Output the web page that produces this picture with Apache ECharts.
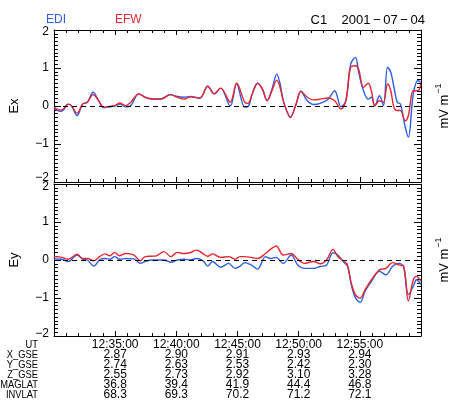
<!DOCTYPE html>
<html>
<head>
<meta charset="utf-8">
<script src="https://cdn.jsdelivr.net/npm/echarts@6.0.0/dist/echarts.min.js"></script>
<style>
  html, body { margin: 0; padding: 0; background: #fff; }
  #chart { width: 459px; height: 408px; }
</style>
</head>
<body>
<div id="chart"></div>
<script>
// time in minutes after 12:30:00 UT
const exTime = [0, 0.5, 0.76, 1.15, 1.42, 1.89, 2.34, 2.73, 3.2, 3.65, 4.04, 4.57, 4.96, 5.41, 5.83, 6.27, 6.93, 7.45, 7.98, 8.77,
  9.5, 10.08, 10.6, 11.13, 11.92, 12.57, 13.1, 13.62, 14.41, 14.93, 15.59, 15.85, 16.24, 16.64, 17.03, 17.42, 17.82, 18.21, 18.47, 18.74,
  19.05, 19.31, 19.79, 20.18, 20.7, 21.23, 21.76, 22.41, 22.94, 23.46, 23.86, 24.25, 24.64, 24.9, 25.3, 25.69, 25.95, 26.22, 26.61, 26.93,
  27.27, 27.53, 27.79, 28.05, 28.32, 28.71, 28.97, 29.37, 29.76, 29.98]
const exEdi = [-0.06, -0.14, -0.11, 0.05, 0.01, -0.25, 0.05, 0.10, 0.36, 0.14, -0.04, -0.02, 0.00, 0.05, -0.02, 0.01, 0.32, 0.23, 0.18, 0.19,
  0.30, 0.25, 0.23, 0.25, 0.21, 0.52, 0.32, 0.47, 0.00, 0.58, -0.03, -0.02, 0.35, 0.60, 0.45, 0.14, 0.45, 0.84, 0.60, 0.14,
  -0.15, -0.30, 0.05, 0.39, 0.14, 0.04, 0.07, 0.18, 0.40, -0.02, 0.14, 1.10, 1.28, 0.89, 0.40, 0.18, 0.23, 0.01, 0.27, 0.01,
  1.02, 0.89, 0.49, 0.10, 0.05, -0.56, -0.82, 0.32, 0.67, 0.62]
const exEfw = [-0.03, -0.11, -0.08, 0.05, 0.01, -0.19, 0.05, 0.10, 0.30, 0.14, -0.03, -0.01, 0.01, 0.08, 0.01, 0.10, 0.32, 0.23, 0.19, 0.18,
  0.30, 0.23, 0.18, 0.24, 0.21, 0.52, 0.32, 0.47, 0.10, 0.60, 0.10, 0.07, 0.35, 0.60, 0.45, 0.14, 0.40, 0.68, 0.50, 0.14,
  -0.15, -0.30, 0.05, 0.39, 0.23, 0.16, 0.18, 0.21, 0.14, -0.08, 0.14, 1.02, 1.06, 0.97, 0.49, 0.60, 0.40, 0.00, 0.14, 0.10,
  0.58, 0.40, -0.04, -0.12, -0.12, -0.39, -0.25, 0.40, 0.40, 0.58]

const eyTime = [0, 0.63, 1.15, 1.89, 2.34, 2.73, 3.25, 3.78, 4.17, 4.57, 4.96, 5.35, 5.88, 6.54, 7.06, 7.45, 7.98, 8.37, 8.98, 9.56,
  10.08, 10.6, 11.13, 11.65, 12.18, 12.57, 12.96, 13.62, 14.28, 14.8, 15.19, 15.59, 16.11, 16.64, 17.29, 17.69, 18.16, 18.74, 19.39, 19.92,
  20.44, 21.23, 21.76, 22.28, 22.81, 23.2, 23.72, 23.99, 24.3, 24.64, 25.04, 25.43, 25.95, 26.61, 27.14, 27.66, 28.19, 28.58, 28.97, 29.37,
  29.63, 30]
const eyEdi = [0.03, 0.02, -0.04, 0.13, 0.02, 0.00, -0.16, 0.02, 0.04, 0.02, 0.09, 0.02, 0.04, 0.03, -0.09, -0.04, 0.00, 0.00, 0.00, -0.06,
  0.00, 0.02, 0.00, 0.04, -0.02, -0.16, -0.04, -0.19, -0.09, -0.22, -0.17, -0.07, -0.13, -0.24, 0.09, 0.04, 0.07, -0.09, 0.13, -0.13,
  -0.22, -0.22, -0.17, -0.13, 0.19, 0.13, -0.07, -0.16, -0.65, -0.99, -1.11, -0.82, -0.56, -0.30, -0.39, -0.17, -0.09, -0.17, -0.91, -0.69,
  -0.52, -0.65]
const eyEfw = [0.09, 0.07, 0.02, 0.15, 0.04, 0.04, -0.02, 0.10, 0.16, 0.11, 0.20, 0.11, 0.17, 0.13, -0.02, 0.09, 0.10, 0.11, 0.22, 0.09,
  0.20, 0.17, 0.19, 0.26, 0.17, 0.10, 0.16, 0.07, 0.09, 0.02, 0.09, 0.09, 0.07, 0.04, 0.17, 0.28, 0.37, 0.13, 0.17, 0.02,
  -0.09, -0.04, -0.10, 0.00, 0.28, 0.09, -0.04, -0.13, -0.61, -0.91, -1.00, -0.78, -0.52, -0.26, -0.22, -0.07, -0.13, -0.17, -1.08, -0.52,
  -0.43, -0.56]

// orbit table under the time axis
const rowNames = ['UT', 'X_GSE', 'Y_GSE', 'Z_GSE', 'MAGLAT', 'INVLAT']
const utLabels = ['12:35:00', '12:40:00', '12:45:00', '12:50:00', '12:55:00']
const xGse = ['2.87', '2.90', '2.91', '2.93', '2.94']
const yGse = ['2.74', '2.63', '2.53', '2.42', '2.30']
const zGse = ['2.55', '2.73', '2.92', '3.10', '3.28']
const maglat = ['36.8', '39.4', '41.9', '44.4', '46.8']
const invlat = ['68.3', '69.3', '70.2', '71.2', '72.1']

const BLUE = '#2c5fe6'
const RED = '#e62630'
const FONT = 'Liberation Sans, Arial, sans-serif'

const pairs = (t, v) => t.map((x, i) => [x, v[i]])

const xAx = (gi, pos, withLabels) => ({
  type: 'value', gridIndex: gi, position: pos, min: 0, max: 30, interval: 5,
  axisLine: { show: true, onZero: false, lineStyle: { color: '#000', width: 1 } },
  axisTick: { show: true, inside: true, length: 5, lineStyle: { color: '#000' } },
  minorTick: { show: true, splitNumber: 5, length: 3, lineStyle: { color: '#000' } },
  splitLine: { show: false },
  axisLabel: withLabels ? {
    show: true, margin: 4, color: '#000', fontSize: 12, fontFamily: FONT, lineHeight: 10,
    formatter: (v) => {
      const i = Math.round(v / 5) - 1
      if (i < 0 || i >= utLabels.length) return ''
      return [utLabels[i], xGse[i], yGse[i], zGse[i], maglat[i], invlat[i]].join('\n')
    }
  } : { show: false }
})

// end labels are nudged inward a little, like the original plot
const tickRich = (top, bot) => ({
  n: { fontSize: 12, fontFamily: FONT, color: '#000' },
  t: { fontSize: 12, fontFamily: FONT, color: '#000', padding: [top, 0, 0, 0] },
  b: { fontSize: 12, fontFamily: FONT, color: '#000', padding: [0, 0, bot, 0] }
})

const yAx = (gi, pos, name, top, bot) => ({
  type: 'value', gridIndex: gi, position: pos, min: -2, max: 2, interval: 1,
  axisLine: { show: true, onZero: false, lineStyle: { color: '#000', width: 1 } },
  axisTick: { show: true, inside: true, length: 7, lineStyle: { color: '#000' } },
  minorTick: { show: true, splitNumber: 10, length: 4, lineStyle: { color: '#000' } },
  splitLine: { show: false },
  axisLabel: pos === 'left' ? {
    show: true, margin: 5, color: '#000', fontSize: 12, fontFamily: FONT,
    rich: tickRich(top, bot),
    formatter: (v) => {
      const s = String(v).replace('-', '\u2212')
      const k = v === 2 ? 't' : (v === -2 ? 'b' : 'n')
      return '{' + k + '|' + s + '}'
    }
  } : { show: false },
  name: name,
  nameLocation: 'middle',
  nameRotate: 90,
  nameGap: pos === 'left' ? 33 : 13,
  nameTextStyle: pos === 'left'
    ? { color: '#000', fontSize: 13, fontFamily: FONT }
    : { color: '#000', fontFamily: FONT, rich: {
        a: { fontSize: 13, fontFamily: FONT, color: '#000', verticalAlign: 'bottom' },
        b: { fontSize: 9, fontFamily: FONT, color: '#000', verticalAlign: 'top', padding: [0, 0, 8, 1] }
      } }
})

const zeroLine = {
  silent: true, symbol: 'none', label: { show: false },
  lineStyle: { color: '#000', type: [5, 4], width: 1 },
  data: [{ yAxis: 0 }]
}

const line = (name, data, color, xi, yi, mark) => ({
  name, type: 'line', xAxisIndex: xi, yAxisIndex: yi, data,
  showSymbol: false, smooth: 0.35, animation: false,
  lineStyle: { color, width: 1.4 }, itemStyle: { color },
  markLine: mark ? zeroLine : undefined
})

const rowTexts = rowNames.map((n, i) => ({
  type: 'text', x: 38, y: 345 + i * 10, scaleX: 0.85,
  style: { text: n, fill: '#000', font: '11px ' + FONT, textAlign: 'right', textVerticalAlign: 'middle' }
}))

const unit = '{a|mV m}{b|\u22121}'

const chart = echarts.init(document.getElementById('chart'), null, { renderer: 'canvas' })
chart.setOption({
  animation: false,
  backgroundColor: '#fff',
  grid: [
    { left: 46, top: 30, width: 381, height: 152 },
    { left: 46, top: 184, width: 381, height: 152 }
  ],
  xAxis: [xAx(0, 'bottom', false), xAx(0, 'top', false), xAx(1, 'bottom', true), xAx(1, 'top', false)],
  yAxis: [
    yAx(0, 'left', 'Ex', 4, 9), yAx(0, 'right', unit),
    yAx(1, 'left', 'Ey', 6, 4), yAx(1, 'right', unit)
  ],
  series: [
    line('EDI', pairs(exTime, exEdi), BLUE, 0, 0, false),
    line('EFW', pairs(exTime, exEfw), RED, 0, 0, true),
    line('EDI', pairs(eyTime, eyEdi), BLUE, 2, 2, false),
    line('EFW', pairs(eyTime, eyEfw), RED, 2, 2, true)
  ],
  graphic: [
    { type: 'text', x: 46, y: 20, style: { text: 'EDI', fill: BLUE, font: '12px ' + FONT, textVerticalAlign: 'middle' } },
    { type: 'text', x: 115, y: 20, style: { text: 'EFW', fill: RED, font: '12px ' + FONT, textVerticalAlign: 'middle' } },
    { type: 'text', x: 425, y: 20, style: { text: 'C1    2001\u2009\u2212\u200907\u2009\u2212\u200904', fill: '#000', font: '13px ' + FONT, textAlign: 'right', textVerticalAlign: 'middle' } }
  ].concat(rowTexts)
})
</script>
</body>
</html>
